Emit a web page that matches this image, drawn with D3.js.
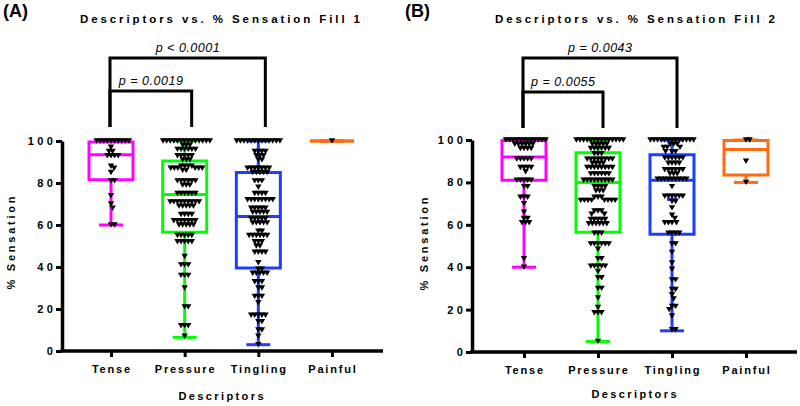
<!DOCTYPE html>
<html><head><meta charset="utf-8">
<script src="https://cdn.jsdelivr.net/npm/d3@7"></script>
<style>body{margin:0;background:#fff}svg{display:block}</style>
</head><body><svg id="c" width="800" height="406"></svg>
<script>
// ---------- DATA ----------
const categories = ["Tense", "Pressure", "Tingling", "Painful"];
const yTicks = [0, 20, 40, 60, 80, 100];
const boxColors = ["#ff00ff", "#00ff00", "#1f3dff", "#ff6a13"];

// Panel A (Fill 1) raw values
const A_tense = [100,100,100,100,100,100,100,100,100,100,97,95,95,93,93,93,93,88,87,85,81,81,74,70,68,60,60];
const A_pressure = [100,100,100,100,100,100,100,100,100,100,100,100,100,100,
  98,98,98,96,96,96,96,96,96,93,93,93,93,93,91,91,91,
  88,88,88,88,87,87,87,87,87,87,86,86,81,81,81,81,81,81,79,79,79,
  75,75,75,75,75,75,71,71,71,71,71,71,71,71,71,69,69,69,69,69,
  65,65,65,65,62,62,62,62,62,62,62,60,60,60,60,60,55,55,55,55,55,
  52,52,52,52,52,45,41,41,41,36,36,36,30,21,21,12,12,12,7];
const A_tingling = [100,100,100,100,100,100,100,100,100,100,100,100,100,
  95,95,95,95,93,93,93,91,91,87,87,87,87,87,87,87,85,85,85,85,85,
  81,81,81,78,75,75,75,75,72,72,72,72,72,72,72,72,68,68,68,68,68,
  66,66,66,66,66,63,63,63,63,63,61,61,61,61,61,57,57,55,55,55,55,55,55,
  52,52,52,50,50,47,47,47,47,42,39,39,37,37,37,37,37,33,33,33,30,30,
  26,26,26,23,17,17,17,17,17,14,14,10,10,7,3];
const A_painful = [100];

// Panel A box statistics
const A_min    = [60, 6.5, 3, 100];
const A_q1     = [81.5, 56.5, 39.5, 100];
const A_median = [93.5, 74.5, 64, 100];
const A_q3     = [99.5, 90.5, 85, 100];
const A_max    = [100, 100, 100, 100];
const A_pLabels = ["p < 0.0001", "p = 0.0019"];

// Panel B (Fill 2) raw values
const B_tense = [100,100,100,100,100,100,100,100,100,100,100,100,
  98,98,98,98,98,98,96,96,96,96,91,91,91,91,91,87,87,87,87,85,
  81,81,81,81,81,78,78,73,73,73,70,66,63,63,61,61,61,44,40];
const B_pressure = [100,100,100,100,100,100,100,100,100,100,100,100,100,100,
  98,98,98,98,98,96,96,96,96,96,96,93.5,93.5,93.5,91,91,91,91,91,91,91,91,
  89,89,89,89,87,87,87,87,87,87,87,87,84,84,84,84,84,84,
  81,81,81,81,81,81,81,81,81,78,78,78,78,76,76,76,73,73,73,
  71.5,71.5,71.5,71.5,71.5,71.5,71.5,71.5,66.5,66.5,66.5,65,65,
  62.5,62.5,62.5,62.5,62.5,60.5,60.5,60.5,60.5,60.5,60.5,56,56,56,
  51,51,51,51,51,51,48.5,44,44,40.5,40.5,40.5,40.5,40.5,38,35,35,30,30,25.5,21,18.5,18.5,18.5,5];
const B_tingling = [100,100,100,100,100,100,100,100,100,100,100,100,100,
  98,98,98,96.5,96.5,96.5,94.5,94.5,94.5,91.5,91.5,91.5,91.5,91.5,91.5,
  89,89,89,89,86,86,86,86,86,86,84,84,84,81.5,81.5,81.5,81.5,81.5,81.5,81.5,81.5,81.5,
  78,73.5,73.5,73.5,73.5,73.5,73.5,71,71,68,64.5,63,61,61,61,61,56,56,56,56,
  51,51,47,42,39,34,34,29.5,29.5,27,25,21.5,21.5,20,17,10.5,10.5];
const B_painful = [100, 100, 90, 80];

// Panel B box statistics
const B_min    = [40, 5, 10, 80];
const B_q1     = [81, 56.5, 55.5, 83.5];
const B_median = [92, 80, 81, 95.5];
const B_q3     = [99.8, 94, 93, 99.8];
const B_max    = [100, 100, 100, 100];
const B_mean   = [null, null, 72, null];
const B_pLabels = ["p = 0.0043", "p = 0.0055"];

// ---------- DRAW ----------
const svg = d3.select("#c");
const FONT = "'Liberation Sans', Arial, Helvetica, sans-serif";

function swarm(vals, cx, y) {
  const sorted = vals.slice().sort((a, b) => b - a);
  const placed = [];
  const s = 3.6, h = 4.6;
  sorted.forEach(v => {
    const py = y(v);
    for (let k = 0; k < 400; k++) {
      const off = k === 0 ? 0 : (k % 2 ? Math.ceil(k / 2) * 0.4 : -Math.ceil(k / 2) * 0.4);
      const px = cx + off;
      if (!placed.some(q => {
        const dx = (q.x - px) / s, dy = (q.y - py) / h;
        return dx * dx + dy * dy < 0.98;
      })) { placed.push({x: px, y: py}); break; }
    }
  });
  return placed;
}

function drawPanel(cfg) {
  const g = svg.append("g");
  const x = d3.scalePoint().domain(categories).range(cfg.xRange);
  const y = d3.scaleLinear().domain([0, 100]).range(cfg.yRange);
  const y0 = y(0);

  // panel letter
  g.append("text").attr("x", cfg.letterX).attr("y", 17)
    .attr("font-family", FONT).attr("font-weight", "bold").attr("font-size", 18)
    .text(cfg.letter);
  // title
  g.append("text").attr("x", cfg.titleX).attr("y", 23).attr("text-anchor", "middle")
    .attr("font-family", FONT).attr("font-weight", "bold").attr("font-size", 11.5)
    .attr("textLength", 280).attr("lengthAdjust", "spacing")
    .text(cfg.title);

  // brackets
  cfg.brackets.forEach((b, i) => {
    const x1 = x(b.from) - 1, x2 = x(b.to) + cfg.legShift;
    g.append("path")
      .attr("d", `M${x1},${cfg.legBottom}V${b.top}H${x2}V${cfg.legBottom}`)
      .attr("fill", "none").attr("stroke", "#000").attr("stroke-width", 3);
    g.append("text").attr("x", (x1 + x2) / 2).attr("y", b.top - 6)
      .attr("text-anchor", "middle").attr("font-family", FONT)
      .attr("font-style", "italic").attr("font-size", 12.5)
      .attr("textLength", 64).attr("lengthAdjust", "spacing")
      .text(cfg.pLabels[i]);
  });

  // Y axis
  const ya = g.append("g").attr("transform", `translate(${cfg.axisX},0)`)
    .call(d3.axisLeft(y).tickValues(yTicks).tickSize(6).tickSizeOuter(0).tickFormat(""));
  ya.select(".domain").attr("stroke-width", 3.5);
  ya.selectAll(".tick line").attr("stroke-width", 3);
  yTicks.forEach(t => {
    g.append("text").attr("x", cfg.axisX - 9 + 3.4).attr("y", y(t)).attr("dy", "0.36em")
      .attr("text-anchor", "end").attr("font-family", FONT).attr("font-weight", "bold")
      .attr("font-size", 11).attr("letter-spacing", 3.4).text(t);
  });
  g.append("text")
    .attr("transform", `translate(${cfg.yLabelX},${cfg.yLabelY}) rotate(-90)`)
    .attr("text-anchor", "middle").attr("font-family", FONT).attr("font-weight", "bold")
    .attr("font-size", 11).attr("textLength", 93).attr("lengthAdjust", "spacing")
    .text("% Sensation");

  // X axis
  const xa = g.append("g").attr("transform", `translate(0,${y0})`)
    .call(d3.axisBottom(x).tickSize(6).tickSizeOuter(0).tickFormat(""));
  xa.select(".domain").remove();
  xa.selectAll(".tick line").attr("stroke-width", 3);
  g.append("line").attr("x1", cfg.axisX - 1.75).attr("x2", cfg.axisEnd)
    .attr("y1", y0).attr("y2", y0).attr("stroke", "#000").attr("stroke-width", 3.5);
  categories.forEach(c => {
    g.append("text").attr("x", x(c) + 0.9).attr("y", cfg.xLabelY).attr("text-anchor", "middle")
      .attr("font-family", FONT).attr("font-weight", "bold").attr("font-size", 11)
      .attr("letter-spacing", 1.8).text(c);
  });
  g.append("text").attr("x", cfg.xTitleX).attr("y", cfg.xTitleY).attr("text-anchor", "middle")
    .attr("font-family", FONT).attr("font-weight", "bold").attr("font-size", 11)
    .attr("textLength", 85).attr("lengthAdjust", "spacing").text("Descriptors");

  // boxes
  const bw = 44, cw = 24;
  categories.forEach((c, i) => {
    const cx = x(c), col = boxColors[i];
    const line = (x1, y1, x2, y2) => g.append("line").attr("x1", x1).attr("y1", y1)
      .attr("x2", x2).attr("y2", y2).attr("stroke", col).attr("stroke-width", 3);
    line(cx, y(cfg.min[i]), cx, y(cfg.q1[i]));
    line(cx, y(cfg.q3[i]), cx, y(cfg.max[i]));
    line(cx - cw / 2, y(cfg.min[i]), cx + cw / 2, y(cfg.min[i]));
    line(cx - cw / 2, y(cfg.max[i]), cx + cw / 2, y(cfg.max[i]));
    const top = y(cfg.q3[i]), bot = y(cfg.q1[i]);
    g.append("path").attr("d", `M${cx - bw / 2},${top}H${cx + bw / 2}V${bot}H${cx - bw / 2}Z`)
      .attr("fill", "none").attr("stroke", col).attr("stroke-width", 3);
    line(cx - bw / 2, y(cfg.median[i]), cx + bw / 2, y(cfg.median[i]));
    if (cfg.mean && cfg.mean[i] != null) line(cx - 5, y(cfg.mean[i]), cx + 5, y(cfg.mean[i]));
  });

  // points
  cfg.groups.forEach((vals, i) => {
    const pts = swarm(vals, x(categories[i]), y);
    g.append("g").selectAll("path").data(pts).join("path")
      .attr("transform", d => `translate(${d.x},${d.y})`)
      .attr("d", "M-3.2,-2.7L3.2,-2.7L0,2.7Z").attr("fill", "#000");
  });
}

drawPanel({
  letter: "(A)", letterX: 3, title: "Descriptors vs. % Sensation Fill 1", titleX: 220,
  xRange: [111, 332], yRange: [351, 141], axisX: 62, axisEnd: 383,
  yLabelX: 15, yLabelY: 243, xLabelY: 373, xTitleX: 221, xTitleY: 400,
  groups: [A_tense, A_pressure, A_tingling, A_painful],
  min: A_min, q1: A_q1, median: A_median, q3: A_q3, max: A_max,
  pLabels: A_pLabels, legShift: 7, legBottom: 127,
  brackets: [{from: "Tense", to: "Tingling", top: 58}, {from: "Tense", to: "Pressure", top: 91}]
});
drawPanel({
  letter: "(B)", letterX: 405, title: "Descriptors vs. % Sensation Fill 2", titleX: 635,
  xRange: [524, 746], yRange: [352, 140], axisX: 472, axisEnd: 797,
  yLabelX: 428, yLabelY: 244, xLabelY: 374, xTitleX: 634, xTitleY: 398,
  groups: [B_tense, B_pressure, B_tingling, B_painful],
  min: B_min, q1: B_q1, median: B_median, q3: B_q3, max: B_max, mean: B_mean,
  pLabels: B_pLabels, legShift: 5, legBottom: 128,
  brackets: [{from: "Tense", to: "Tingling", top: 58}, {from: "Tense", to: "Pressure", top: 92}]
});
</script></body></html>
